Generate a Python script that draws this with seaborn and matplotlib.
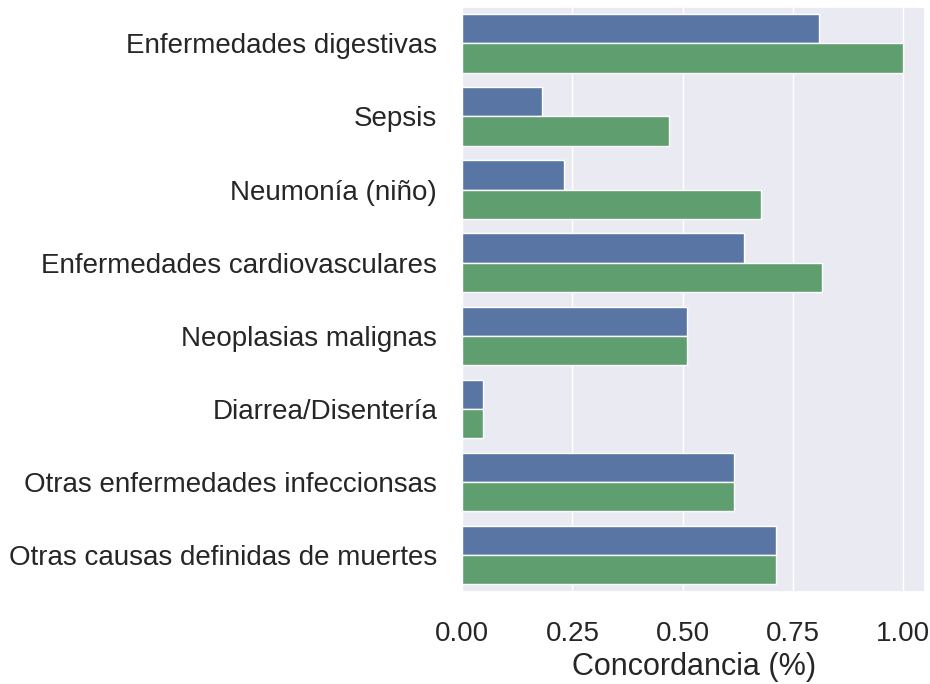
import matplotlib
matplotlib.use('Agg')
import matplotlib.pyplot as plt
import seaborn as sns
import pandas as pd

causas = ['Enfermedades digestivas', 'Sepsis', 'Neumonía (niño)',
          'Enfermedades cardiovasculares', 'Neoplasias malignas',
          'Diarrea/Disentería', 'Otras enfermedades infeccionsas',
          'Otras causas definidas de muertes']
serie_1 = [0.808, 0.182, 0.231, 0.638, 0.509, 0.048, 0.617, 0.712]
serie_2 = [1.000, 0.469, 0.677, 0.816, 0.509, 0.048, 0.617, 0.712]
xticks = [0, 0.25, 0.5, 0.75, 1.0]
xtick_labels = ['0.00', '0.25', '0.50', '0.75', '1.00']

df = pd.DataFrame({'causa': causas * 2,
                   'concordancia': serie_1 + serie_2,
                   'grupo': ['1'] * len(causas) + ['2'] * len(causas)})

sns.set_theme(style='darkgrid')
plt.rcParams['font.family'] = ['Liberation Sans', 'DejaVu Sans']

fig = plt.figure(figsize=(9.3, 6.84), dpi=100)
ax = fig.add_axes([0.497, 0.135, 0.498, 0.855])
sns.barplot(data=df, y='causa', x='concordancia', hue='grupo',
            orient='h', palette=['#4C72B0', '#55A868'], legend=False, ax=ax)
ax.set_ylabel('')
ax.set_xlabel('Concordancia (%)', fontsize=22)
ax.tick_params(axis='y', labelsize=20, pad=12)
ax.tick_params(axis='x', labelsize=20, pad=15)
ax.set_xticks(xticks)
ax.set_xticklabels(xtick_labels)
fig.savefig('out.png', dpi=100)
